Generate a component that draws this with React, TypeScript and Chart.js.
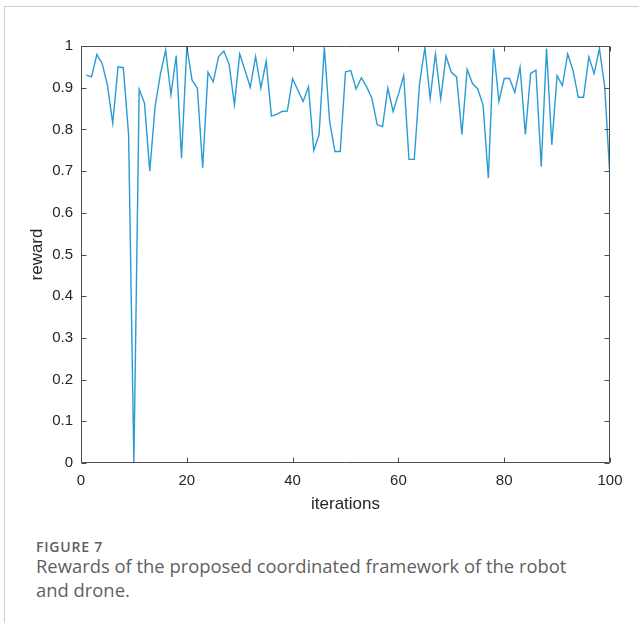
import React, { useEffect, useRef } from "react";
import { Chart, registerables } from "chart.js";

Chart.register(...registerables);

const iterations: number[] = Array.from({ length: 100 }, (_, i) => i + 1);

const rewards: number[] = [
  0.930, 0.926, 0.980, 0.958, 0.906, 0.815, 0.950, 0.948, 0.787, 0.000,
  0.896, 0.863, 0.700, 0.854, 0.932, 0.990, 0.883, 0.977, 0.731, 0.998,
  0.918, 0.899, 0.708, 0.937, 0.914, 0.974, 0.988, 0.956, 0.859, 0.981,
  0.942, 0.901, 0.975, 0.899, 0.964, 0.832, 0.836, 0.843, 0.844, 0.922,
  0.894, 0.867, 0.902, 0.749, 0.787, 0.997, 0.819, 0.747, 0.747, 0.938,
  0.941, 0.897, 0.924, 0.902, 0.874, 0.811, 0.807, 0.899, 0.843, 0.884,
  0.929, 0.728, 0.728, 0.910, 0.996, 0.874, 0.981, 0.873, 0.976, 0.937,
  0.926, 0.788, 0.944, 0.910, 0.897, 0.859, 0.683, 0.994, 0.867, 0.922,
  0.922, 0.889, 0.949, 0.788, 0.934, 0.942, 0.711, 0.994, 0.763, 0.929,
  0.905, 0.981, 0.942, 0.877, 0.877, 0.974, 0.934, 0.994, 0.902, 0.683,
];

const xTickStep = 20;
const yTickStep = 0.1;
const xLabel = "iterations";
const yLabel = "reward";
const figureLabel = "FIGURE 7";
const captionText = "Rewards of the proposed coordinated framework of the robot and drone.";

const framePlugin = {
  id: "matlabFrame",
  afterDatasetsDraw(chart: any) {
    const { ctx, chartArea } = chart;
    const { left, right, top, bottom } = chartArea;
    const xs = chart.scales.x;
    const ys = chart.scales.y;
    ctx.save();
    ctx.strokeStyle = "#4d4d4d";
    ctx.lineWidth = 1;
    ctx.beginPath();
    const l = Math.round(left) + 0.5;
    const r = Math.round(right) - 0.5;
    const t = Math.round(top) + 0.5;
    const b = Math.round(bottom) - 0.5;
    ctx.moveTo(l, t);
    ctx.lineTo(r, t);
    ctx.lineTo(r, b);
    ctx.lineTo(l, b);
    ctx.closePath();
    const L = 5;
    xs.ticks.forEach((tk: any) => {
      const px = Math.round(xs.getPixelForValue(tk.value)) + 0.5;
      ctx.moveTo(px, b);
      ctx.lineTo(px, b - L);
      ctx.moveTo(px, t);
      ctx.lineTo(px, t + L);
    });
    ys.ticks.forEach((tk: any) => {
      const py = Math.round(ys.getPixelForValue(tk.value)) + 0.5;
      ctx.moveTo(l, py);
      ctx.lineTo(l + L, py);
      ctx.moveTo(r, py);
      ctx.lineTo(r - L, py);
    });
    ctx.stroke();
    ctx.restore();
  },
};

export default function App() {
  const canvasRef = useRef<HTMLCanvasElement | null>(null);

  useEffect(() => {
    if (!canvasRef.current) return;
    const chart = new Chart(canvasRef.current, {
      type: "line",
      data: {
        datasets: [
          {
            data: iterations.map((it, i) => ({ x: it, y: rewards[i] })),
            borderColor: "#2a9bd3",
            borderWidth: 1.4,
            pointRadius: 0,
            tension: 0,
            fill: false,
          },
        ],
      },
      options: {
        animation: false,
        responsive: false,
        layout: { padding: { left: 0, right: 29, top: 46, bottom: 0 } },
        plugins: {
          legend: { display: false },
          tooltip: { enabled: false },
        },
        scales: {
          x: {
            type: "linear",
            min: 0,
            max: 100,
            grid: { display: false, drawTicks: false },
            border: { display: false },
            ticks: {
              stepSize: xTickStep,
              padding: 9,
              color: "#262626",
              font: { family: "'Liberation Sans', Arial, sans-serif", size: 15 },
              maxRotation: 0,
            },
            title: {
              display: true,
              text: xLabel,
              color: "#262626",
              font: { family: "'Liberation Sans', Arial, sans-serif", size: 17 },
              padding: { top: 0, bottom: 15 },
            },
            afterFit: (scale: any) => {
              scale.height = 67;
            },
          },
          y: {
            type: "linear",
            min: 0,
            max: 1,
            grid: { display: false, drawTicks: false },
            border: { display: false },
            ticks: {
              stepSize: yTickStep,
              padding: 8,
              color: "#262626",
              font: { family: "'Liberation Sans', Arial, sans-serif", size: 15 },
              callback: (v: any) => String(Number(Number(v).toFixed(1))),
            },
            title: {
              display: true,
              text: yLabel,
              color: "#262626",
              font: { family: "'Liberation Sans', Arial, sans-serif", size: 17 },
              padding: { top: 27, bottom: 0 },
            },
            afterFit: (scale: any) => {
              scale.width = 81;
            },
          },
        },
      },
      plugins: [framePlugin],
    } as any);
    return () => chart.destroy();
  }, []);

  return (
    <div
      style={{
        position: "absolute",
        left: 0,
        top: 0,
        width: 639,
        height: 623,
        background: "#ffffff",
        overflow: "hidden",
      }}
    >
      <div
        style={{
          position: "absolute",
          left: 4,
          top: 6,
          width: 700,
          height: 700,
          borderTop: "1px solid #cfcfcf",
          borderLeft: "1px solid #cfcfcf",
        }}
      />
      <canvas
        ref={canvasRef}
        width={639}
        height={530}
        style={{ position: "absolute", left: 0, top: 0, width: 639, height: 530 }}
      />
      <div
        style={{
          position: "absolute",
          left: 36,
          top: 538,
          fontFamily: "'Open Sans', sans-serif",
          fontWeight: 600,
          fontSize: 14,
          lineHeight: "17px",
          letterSpacing: "0.8px",
          color: "#5f5f5f",
        }}
      >
        {figureLabel}
      </div>
      <div
        style={{
          position: "absolute",
          left: 36,
          top: 554,
          width: 556,
          fontFamily: "'Open Sans', sans-serif",
          fontSize: 18.4,
          lineHeight: "24px",
          color: "#5f5f5f",
        }}
      >
        {captionText}
      </div>
    </div>
  );
}
